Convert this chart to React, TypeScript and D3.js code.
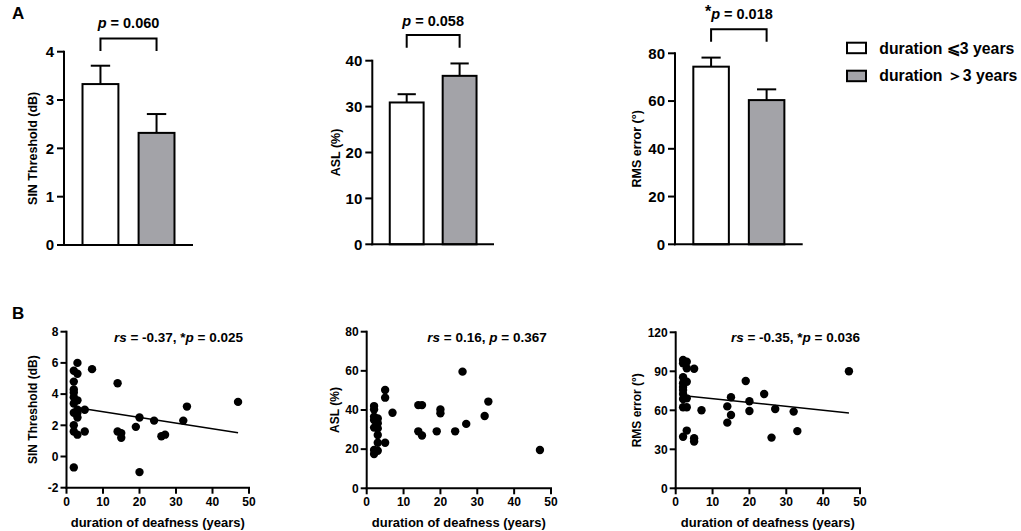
import React from 'react';
import * as d3 from 'd3';

// ---------- DATA ----------
const groupLabels = ['duration ⩽3 years', 'duration ＞3 years'];
const groupKeys = ['short', 'long'];
const groupFills = ['#ffffff', '#a3a3a8'];

const sinMeans = [3.33, 2.32];
const sinSem = [0.38, 0.39];
const aslMeans = [30.9, 36.7];
const aslSem = [1.8, 2.7];
const rmsMeans = [74.4, 60.4];
const rmsSem = [3.8, 4.5];

const sinTicks = [0, 1, 2, 3, 4];
const aslTicks = [0, 10, 20, 30, 40];
const rmsTicks = [0, 20, 40, 60, 80];

const durationTicks = [0, 10, 20, 30, 40, 50];
const sinScatterTicks = [-2, 0, 2, 4, 6, 8];
const aslScatterTicks = [0, 20, 40, 60, 80];
const rmsScatterTicks = [0, 30, 60, 90, 120];

const sinPoints: [number, number][] = [
  [3, 6.0], [2, 5.5], [3, 5.3], [7, 5.6], [2, 4.8], [2, 4.3], [2, 4.1], [2, 3.8], [3, 3.6],
  [2, 3.4], [3, 3.0], [2, 2.8], [3, 2.8], [3, 2.5], [5, 3.0], [2, 2.0], [2, 1.6], [3, 1.4],
  [5, 1.6], [2, -0.7], [14, 4.7], [14, 1.6], [15, 1.5], [15, 1.2], [19, 1.9], [20, 2.5],
  [20, -1.0], [24, 2.3], [26, 1.3], [27, 1.4], [32, 2.3], [33, 3.2], [47, 3.5],
];
const aslPoints: [number, number][] = [
  [2, 42.0], [2, 40.3], [2, 36.6], [2, 34.9], [2, 31.0], [2, 19.6], [2, 17.5], [3, 35.7],
  [3, 33.2], [3, 30.6], [3, 27.2], [3, 23.3], [3, 19.2], [5, 50.2], [5, 46.3], [5, 23.3],
  [7, 38.6], [14, 42.5], [15, 42.5], [14, 29.1], [15, 27.0], [19, 29.1], [20, 40.3],
  [20, 38.3], [24, 29.1], [26, 59.6], [27, 32.9], [32, 36.9], [33, 44.3], [47, 19.6],
];
const rmsPoints: [number, number][] = [
  [2, 98.7], [3, 97.4], [2, 96.2], [3, 92.3], [2, 85.4], [3, 82.0], [2, 80.8], [2, 78.0],
  [2, 75.6], [2, 72.6], [2, 68.7], [3, 69.2], [2, 62.3], [3, 62.3], [3, 44.4], [2, 39.7],
  [5, 92.0], [5, 38.5], [5, 36.0], [7, 60.0], [14, 63.0], [14, 50.5], [15, 70.0], [15, 56.4],
  [19, 82.5], [20, 67.0], [20, 59.5], [24, 72.5], [26, 39.0], [27, 61.0], [32, 59.0],
  [33, 44.0], [47, 90.0],
];

const sinFit: [number, number][] = [[3, 3.12], [47, 1.52]];
const aslFit: [number, number][] | null = null;
const rmsFit: [number, number][] = [[3, 71], [47, 58]];

// ---------- STYLE ----------
const FONT = '"Liberation Sans", Arial, Helvetica, sans-serif';

type BarPanelProps = {
  axisX: number; axisEnd: number; yBottom: number; yTop: number;
  domainMax: number; ticks: number[]; means: number[]; sems: number[];
  yLabel: string; yLabelOffset: number;
  bracketY: number; bracketLegY: number; pText: string; star: boolean; pBaseline: number;
};

function PText({ x, y, star, value }: { x: number; y: number; star: boolean; value: string }) {
  return (
    <text x={x} y={y} textAnchor="middle" fontFamily={FONT} fontWeight="bold" fontSize={14.5}>
      {star ? <tspan fontSize={16} dy={-2}>*</tspan> : null}
      <tspan fontStyle="italic" dy={star ? 2 : 0}>p</tspan>
      <tspan>{` = ${value}`}</tspan>
    </text>
  );
}

function BarPanel(p: BarPanelProps) {
  const x = d3.scaleBand<string>().domain(groupKeys).range([p.axisX, p.axisEnd]).paddingInner(0.36).paddingOuter(0.33);
  const y = d3.scaleLinear().domain([0, p.domainMax]).range([p.yBottom, p.yTop]);
  const bw = x.bandwidth();
  const c0 = (x(groupKeys[0]) as number) + bw / 2;
  const c1 = (x(groupKeys[1]) as number) + bw / 2;
  return (
    <g>
      {groupKeys.map((k, i) => {
        const bx = x(k) as number;
        const cx = bx + bw / 2;
        const top = y(p.means[i] + p.sems[i]);
        return (
          <g key={k}>
            <line x1={cx} x2={cx} y1={y(p.means[i])} y2={top} stroke="#000" strokeWidth={2} />
            <line x1={cx - bw * 0.27} x2={cx + bw * 0.27} y1={top} y2={top} stroke="#000" strokeWidth={2} />
            <rect x={bx} y={y(p.means[i])} width={bw} height={y(0) - y(p.means[i])} fill={groupFills[i]} stroke="#000" strokeWidth={2} />
          </g>
        );
      })}
      <line x1={p.axisX} x2={p.axisX} y1={p.yBottom + 1} y2={p.yTop - 1} stroke="#000" strokeWidth={2} />
      <line x1={p.axisX - 1} x2={p.axisEnd} y1={p.yBottom} y2={p.yBottom} stroke="#000" strokeWidth={2} />
      {p.ticks.map((t) => (
        <g key={t}>
          <line x1={p.axisX - 7} x2={p.axisX} y1={y(t)} y2={y(t)} stroke="#000" strokeWidth={2} />
          <text x={p.axisX - 10} y={y(t)} dy="0.36em" textAnchor="end" fontFamily={FONT} fontWeight="bold" fontSize={15}>{t}</text>
        </g>
      ))}
      <text transform={`translate(${p.axisX + p.yLabelOffset},${(p.yBottom + p.yTop) / 2}) rotate(-90)`} textAnchor="middle" dy="0.35em"
        fontFamily={FONT} fontWeight="bold" fontSize={12.5}>{p.yLabel}</text>
      <path d={`M${c0},${p.bracketLegY}V${p.bracketY}H${c1}V${p.bracketLegY}`} fill="none" stroke="#000" strokeWidth={2} />
      <PText x={(c0 + c1) / 2} y={p.pBaseline} star={p.star} value={p.pText} />
    </g>
  );
}

type ScatterProps = {
  axisX: number; axisEnd: number; yBottom: number; yTop: number;
  yDomain: [number, number]; yTicks: number[]; points: [number, number][]; fit: [number, number][] | null;
  yLabel: string; yLabelOffset: number; rs: string; pv: string; star: boolean; annX: number;
};

function ScatterPanel(p: ScatterProps) {
  const x = d3.scaleLinear().domain([0, 50]).range([p.axisX, p.axisEnd]);
  const y = d3.scaleLinear().domain(p.yDomain).range([p.yBottom, p.yTop]);
  const line = d3.line<[number, number]>().x((d) => x(d[0])).y((d) => y(d[1]));
  return (
    <g>
      <line x1={p.axisX} x2={p.axisX} y1={p.yBottom + 1} y2={p.yTop - 1} stroke="#000" strokeWidth={2} />
      <line x1={p.axisX - 1} x2={p.axisEnd + 1} y1={p.yBottom} y2={p.yBottom} stroke="#000" strokeWidth={2} />
      {p.yTicks.map((t) => (
        <g key={t}>
          <line x1={p.axisX - 6} x2={p.axisX} y1={y(t)} y2={y(t)} stroke="#000" strokeWidth={2} />
          <text x={p.axisX - 8} y={y(t)} dy="0.36em" textAnchor="end" fontFamily={FONT} fontWeight="bold" fontSize={12}>{t}</text>
        </g>
      ))}
      {durationTicks.map((t) => (
        <g key={t}>
          <line x1={x(t)} x2={x(t)} y1={p.yBottom} y2={p.yBottom + 6} stroke="#000" strokeWidth={2} />
          <text x={x(t)} y={p.yBottom + 18} textAnchor="middle" fontFamily={FONT} fontWeight="bold" fontSize={12}>{t}</text>
        </g>
      ))}
      {p.fit ? <path d={line(p.fit) as string} fill="none" stroke="#000" strokeWidth={1.5} /> : null}
      {p.points.map((d, i) => (
        <circle key={i} cx={x(d[0])} cy={y(d[1])} r={4.2} fill="#000" />
      ))}
      <text transform={`translate(${p.axisX + p.yLabelOffset},${(p.yBottom + p.yTop) / 2}) rotate(-90)`} textAnchor="middle" dy="0.35em"
        fontFamily={FONT} fontWeight="bold" fontSize={12}>{p.yLabel}</text>
      <text x={(p.axisX + p.axisEnd) / 2} y={p.yBottom + 39} textAnchor="middle" fontFamily={FONT} fontWeight="bold" fontSize={13}>
        duration of deafness (years)
      </text>
      <text x={p.annX} y={p.yTop + 10} textAnchor="end" fontFamily={FONT} fontWeight="bold" fontSize={13.5}>
        <tspan fontStyle="italic">rs</tspan>
        <tspan>{` = ${p.rs}, `}</tspan>
        {p.star ? <tspan>*</tspan> : null}
        <tspan fontStyle="italic">p</tspan>
        <tspan>{` = ${p.pv}`}</tspan>
      </text>
    </g>
  );
}

export default function App() {
  return (
    <svg width={1021} height={531} style={{ position: 'absolute', left: 0, top: 0, background: '#fff' }}>
      <rect width={1021} height={531} fill="#fff" />
      <text x={12} y={19} fontFamily={FONT} fontWeight="bold" fontSize={17}>A</text>
      <text x={12} y={319} fontFamily={FONT} fontWeight="bold" fontSize={17}>B</text>

      <BarPanel axisX={64} axisEnd={193} yBottom={245} yTop={51.7} domainMax={4} ticks={sinTicks}
        means={sinMeans} sems={sinSem} yLabel="SIN Threshold (dB)" yLabelOffset={-31}
        bracketY={38.5} bracketLegY={51} pText="0.060" star={false} pBaseline={28} />
      <BarPanel axisX={372.3} axisEnd={494} yBottom={244.3} yTop={60.7} domainMax={40} ticks={aslTicks}
        means={aslMeans} sems={aslSem} yLabel="ASL (%)" yLabelOffset={-36.6}
        bracketY={35} bracketLegY={47.7} pText="0.058" star={false} pBaseline={26} />
      <BarPanel axisX={675} axisEnd={802.7} yBottom={244.3} yTop={53.3} domainMax={80} ticks={rmsTicks}
        means={rmsMeans} sems={rmsSem} yLabel="RMS error (°)" yLabelOffset={-38.3}
        bracketY={29.3} bracketLegY={41.7} pText="0.018" star={true} pBaseline={18.5} />

      {groupLabels.map((g, i) => (
        <g key={g}>
          <rect x={847} y={i === 0 ? 42.7 : 70.7} width={19} height={10.5} fill={groupFills[i]} stroke="#000" strokeWidth={2} />
          <text x={879.3} y={i === 0 ? 53.5 : 80.5} fontFamily={FONT} fontWeight="bold" fontSize={15.8}>{g}</text>
        </g>
      ))}

      <ScatterPanel axisX={66.5} axisEnd={249} yBottom={487.7} yTop={331.7} yDomain={[-2, 8]} yTicks={sinScatterTicks}
        points={sinPoints} fit={sinFit} yLabel="SIN Threshold  (dB)" yLabelOffset={-33.5}
        rs="-0.37" pv="0.025" star={true} annX={243} />
      <ScatterPanel axisX={366.7} axisEnd={551} yBottom={488.3} yTop={331.7} yDomain={[0, 80]} yTicks={aslScatterTicks}
        points={aslPoints} fit={aslFit} yLabel="ASL (%)" yLabelOffset={-31.7}
        rs="0.16" pv="0.367" star={false} annX={546.7} />
      <ScatterPanel axisX={675.7} axisEnd={860} yBottom={488.3} yTop={332.3} yDomain={[0, 120]} yTicks={rmsScatterTicks}
        points={rmsPoints} fit={rmsFit} yLabel="RMS error (°)" yLabelOffset={-38.7}
        rs="-0.35" pv="0.036" star={true} annX={860} />
    </svg>
  );
}
